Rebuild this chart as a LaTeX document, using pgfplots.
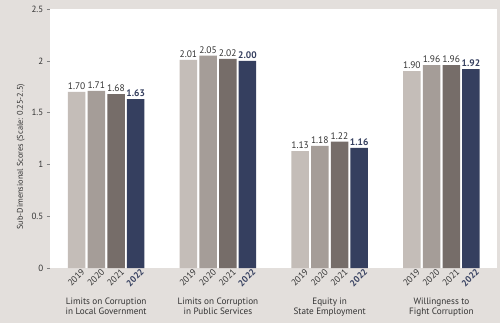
\documentclass[border=0pt]{standalone}
\usepackage{fontspec}
\setmainfont{PT Sans}
\usepackage{pgfplots}
\pgfplotsset{compat=1.18}
\definecolor{bgc}{HTML}{E3DFDC}
\definecolor{cA}{HTML}{C4BDB8}
\definecolor{cB}{HTML}{A59D98}
\definecolor{cC}{HTML}{766D69}
\definecolor{cD}{HTML}{353F5F}
\definecolor{txt}{HTML}{333333}
\begin{document}
\begin{tikzpicture}[x=1pt,y=1pt]
\fill[bgc] (0,0) rectangle (500,323);
\begin{axis}[
  at={(45,53)}, anchor=south west,
  scale only axis, width=447pt, height=259pt,
  xmin=-0.5, xmax=3.5, ymin=0, ymax=2.5,
  axis background/.style={fill=white},
  axis line style={draw=none},
  ybar=2.2pt, bar width=17.5pt,
  ytick={0,0.5,1,1.5,2,2.5},
  yticklabels={0,0.5,1,1.5,2,2.5},
  ytick pos=left,
  ytick style={draw=gray, thin},
  major tick length=3.5pt,
  y tick label style={font=\fontsize{9}{10}\selectfont, text=txt},
  tick align=outside,
  xtick={-0.2644,-0.0881,0.0881,0.2644, 0.7356,0.9119,1.0881,1.2644, 1.7356,1.9119,2.0881,2.2644, 2.7356,2.9119,3.0881,3.2644},
  xticklabels={2019,2020,2021,\textbf{\color{cD}2022},2019,2020,2021,\textbf{\color{cD}2022},2019,2020,2021,\textbf{\color{cD}2022},2019,2020,2021,\textbf{\color{cD}2022}},
  x tick style={draw=none},
  x tick label style={rotate=45, anchor=north east, font=\fontsize{9}{10}\selectfont, text=txt, xshift=9pt, yshift=3pt},
  ylabel={Sub-Dimensional Scores (Scale: 0.25-2.5)},
  ylabel style={font=\fontsize{8.3}{9}\selectfont, text=txt, at={(ticklabel cs:0.43)}},
  nodes near coords,
  nodes near coords style={font=\fontsize{9.5}{10}\selectfont, text=txt, inner sep=2pt, /pgf/number format/assume math mode=true, /pgf/number format/fixed, /pgf/number format/fixed zerofill, /pgf/number format/precision=2},
  /pgf/number format/assume math mode=true,
  clip=false,
]
\addplot[fill=cA, draw=none] coordinates {(0,1.70) (1,2.01) (2,1.13) (3,1.90)};
\addplot[fill=cB, draw=none] coordinates {(0,1.71) (1,2.05) (2,1.18) (3,1.96)};
\addplot[fill=cC, draw=none] coordinates {(0,1.68) (1,2.02) (2,1.22) (3,1.96)};
\addplot[fill=cD, draw=none, nodes near coords style={text=cD, font=\fontsize{9.5}{10}\selectfont\bfseries}] coordinates {(0,1.63) (1,2.00) (2,1.16) (3,1.92)};
\begin{scope}[every node/.style={anchor=north, align=center, font=\fontsize{9.2}{10.7}\selectfont, text=txt, yshift=-26pt}]
\node at (axis cs:0,0) {Limits on Corruption\\in Local Government};
\node at (axis cs:1,0) {Limits on Corruption\\in Public Services};
\node at (axis cs:2,0) {Equity in\\State Employment};
\node at (axis cs:3,0) {Willingness to\\Fight Corruption};
\end{scope}
\end{axis}
\pgfresetboundingbox
\useasboundingbox (0,0) rectangle (500,323);
\end{tikzpicture}
\end{document}
